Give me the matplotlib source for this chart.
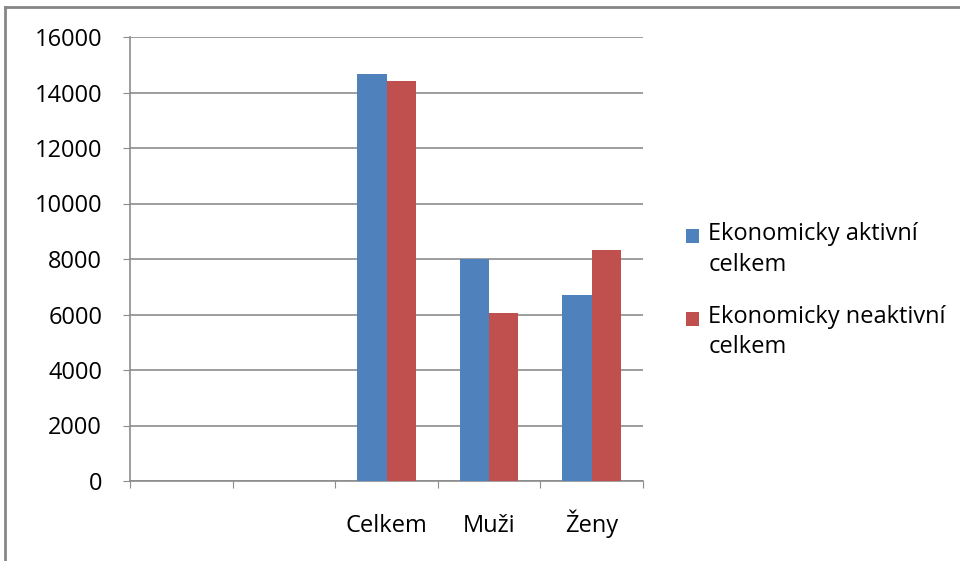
import numpy as np
import matplotlib
matplotlib.use('Agg')
import matplotlib.pyplot as plt
from matplotlib.lines import Line2D
from matplotlib.patches import Patch, Rectangle
from matplotlib.legend_handler import HandlerPatch

plt.rcParams['font.family'] = ['Open Sans', 'DejaVu Sans']

# data
categories = ['', '', 'Celkem', 'Muži', 'Ženy']
aktivni = [np.nan, np.nan, 14670, 7990, 6720]
neaktivni = [np.nan, np.nan, 14400, 6070, 8340]
series_names = ['Ekonomicky aktivní\ncelkem', 'Ekonomicky neaktivní\ncelkem']
colors = ['#4f81bd', '#c0504d']
yticks = [0, 2000, 4000, 6000, 8000, 10000, 12000, 14000, 16000]

FS = 17
W, H = 960, 561
fig = plt.figure(figsize=(W / 100, H / 100), dpi=100)
ax = fig.add_axes([130 / W, 1 - 481 / H, (643 - 130) / W, (481 - 37) / H])

x = np.arange(len(categories))
bw = 0.286
ax.bar(x - bw / 2, aktivni, bw, color=colors[0], zorder=3)
ax.bar(x + bw / 2, neaktivni, bw, color=colors[1], zorder=3)

ax.set_xlim(-0.5, len(categories) - 0.5)
ax.set_ylim(0, 16000)
ax.set_yticks(yticks)
ax.set_yticklabels([str(v) for v in yticks])
ax.yaxis.grid(True, color='#8c8c8c', linewidth=1.2)
ax.set_axisbelow(True)

# boundary ticks on x, labels centred
ax.set_xticks(np.arange(len(categories) + 1) - 0.5)
ax.set_xticklabels([])
ax.set_xticks(x, minor=True)
ax.set_xticklabels(categories, minor=True)
ax.tick_params(axis='x', which='major', length=5, color='#8c8c8c', direction='out')
ax.tick_params(axis='x', which='minor', length=0, pad=37, labelsize=FS)
for t in ax.get_xticklabels(minor=True):
    t.set_va('baseline')
ax.tick_params(axis='y', length=5, color='#8c8c8c', labelsize=FS, pad=15)

for s in ['top', 'right']:
    ax.spines[s].set_visible(False)
for s in ['left', 'bottom']:
    ax.spines[s].set_color('#8c8c8c')
    ax.spines[s].set_linewidth(1.2)


# legend square sits next to the first line of the label
def first_line_square(legend, orig_handle, xdescent, ydescent, width, height, fontsize):
    return Rectangle((-xdescent, -ydescent + 10), width, height)


handles = [Patch(facecolor=c, edgecolor='none') for c in colors]
leg = fig.legend(handles, series_names, loc='upper left', bbox_to_anchor=(665 / W, 1 - 201 / H),
                 frameon=False, fontsize=FS, handlelength=0.55, handleheight=0.55,
                 handletextpad=0.38, labelspacing=1.2,
                 handler_map={Patch: HandlerPatch(patch_func=first_line_square)})
for t in leg.get_texts():
    t.set_linespacing(1.35)

# outer chart frame
fig.add_artist(Line2D([5 / W, 5 / W], [0, 1 - 7 / H], transform=fig.transFigure,
                      color='#868686', linewidth=2))
fig.add_artist(Line2D([5 / W, 1], [1 - 7 / H, 1 - 7 / H], transform=fig.transFigure,
                      color='#868686', linewidth=2))

fig.savefig('out.png', dpi=100)
